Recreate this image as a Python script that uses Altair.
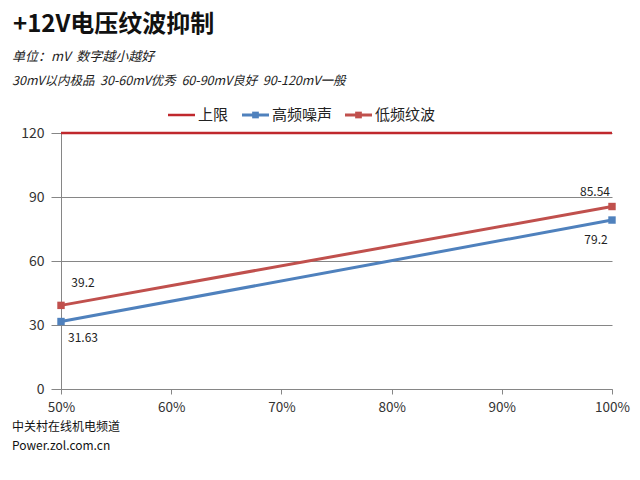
import altair as alt
import pandas as pd

# Data
loads = [50, 100]
high_noise = [31.63, 79.2]
low_ripple = [39.2, 85.54]
limit = [120, 120]
series_names = ["上限", "高频噪声", "低频纹波"]
colors = ["#C0282D", "#4F81BD", "#C0504D"]
x_ticks = [50, 60, 70, 80, 90, 100]
y_ticks = [0, 30, 60, 90, 120]

title_text = "+12V电压纹波抑制"
sub1 = "单位：mV\u00a0\u00a0数字越小越好"
sub2 = "30mV以内极品\u00a0\u00a030-60mV优秀\u00a0\u00a060-90mV良好\u00a0\u00a090-120mV一般"
foot1 = "中关村在线机电频道"
foot2 = "Power.zol.com.cn"

rows = []
for x, v in zip(loads, limit):
    rows.append({"load": x, "value": v, "series": "上限"})
for x, v in zip(loads, high_noise):
    rows.append({"load": x, "value": v, "series": "高频噪声"})
for x, v in zip(loads, low_ripple):
    rows.append({"load": x, "value": v, "series": "低频纹波"})
df = pd.DataFrame(rows)
pts = df[df.series != "上限"].copy()
pts["label"] = pts["value"].map(lambda v: f"{v:g}")

FONT = "Noto Sans CJK SC"

xenc = alt.X("load:Q", scale=alt.Scale(domain=[50, 100], nice=False),
             axis=alt.Axis(values=x_ticks, labelExpr="datum.value + '%'", grid=False,
                           title=None, domainColor="#868686", tickColor="#868686",
                           tickSize=5, labelPadding=6, labelFontSize=13.5, labelFlush=False,
                           labelColor="#333333", labelFont=FONT))
yenc = alt.Y("value:Q", scale=alt.Scale(domain=[0, 120], nice=False),
             axis=alt.Axis(values=y_ticks, grid=True, gridColor="#868686", gridWidth=1,
                           title=None, domainColor="#868686", tickColor="#868686",
                           tickSize=10, labelPadding=7, labelFontSize=14,
                           labelColor="#333333", labelFont=FONT))

color_scale = alt.Scale(domain=series_names, range=colors)

lines = alt.Chart(df).mark_line().encode(
    x=xenc, y=yenc,
    color=alt.Color("series:N", scale=color_scale, legend=None),
    strokeWidth=alt.condition(alt.datum.series == "上限", alt.value(2.5), alt.value(3)),
    detail="series:N",
)

sq = alt.Chart(pts).mark_square(size=55, opacity=1).encode(
    x="load:Q", y="value:Q",
    color=alt.Color("series:N", scale=color_scale, legend=None),
)

def lab(series, load, dx, dy):
    return alt.Chart(pts).transform_filter(
        (alt.datum.series == series) & (alt.datum.load == load)
    ).mark_text(fontSize=12, font=FONT, color="#222222", dx=dx, dy=dy).encode(
        x="load:Q", y="value:Q", text="label:N")

lab_low_start = lab("低频纹波", 50, 22, -22)
lab_high_start = lab("高频噪声", 50, 22, 16)
lab_low_end = lab("低频纹波", 100, -17, -15)
lab_high_end = lab("高频噪声", 100, -16, 20)

one = pd.DataFrame({"k": [0]})
def txt(t, x, y, size, weight="normal", style="normal", color="#111111"):
    return alt.Chart(one).mark_text(text=t, align="left", baseline="middle", fontSize=size,
                                    fontWeight=weight, fontStyle=style, font=FONT, color=color).encode(
        x=alt.value(x), y=alt.value(y))

# manual legend (positions relative to plot origin)
LEG_Y = -18
def leg_entry(i, x0, marker, sw):
    layers = [alt.Chart(one).mark_rule(color=colors[i], strokeWidth=sw).encode(
        x=alt.value(x0), x2=alt.value(x0 + 27), y=alt.value(LEG_Y))]
    if marker:
        layers.append(alt.Chart(one).mark_square(size=45, opacity=1, color=colors[i]).encode(
            x=alt.value(x0 + 13.5), y=alt.value(LEG_Y)))
    layers.append(txt(series_names[i], x0 + 30, LEG_Y, 15, color="#222222"))
    return layers

legend_layers = leg_entry(0, 107, False, 2.5) + leg_entry(1, 181, True, 3) + leg_entry(2, 284, True, 3)

title = txt(title_text, -48, -108, 24, weight="bold", color="#111111")
s1 = txt(sub1, -49, -76, 13, style="italic", color="#222222")
s2 = txt(sub2, -49, -52, 12.5, style="italic", color="#222222")
f1 = txt(foot1, -49, 294, 12, color="#111111")
f2 = txt(foot2, -49, 313, 12, color="#111111")

chart = alt.layer(lines, sq, lab_low_start, lab_high_start, lab_low_end, lab_high_end,
                  *legend_layers, title, s1, s2, f1, f2).properties(
    width=551, height=256,
    autosize=alt.AutoSizeParams(type="none"),
    padding={"left": 61, "top": 133, "right": 28, "bottom": 91},
    background="white",
).configure_view(stroke=None)

chart.save("out.html", embed_options={"renderer": "svg", "actions": False})
